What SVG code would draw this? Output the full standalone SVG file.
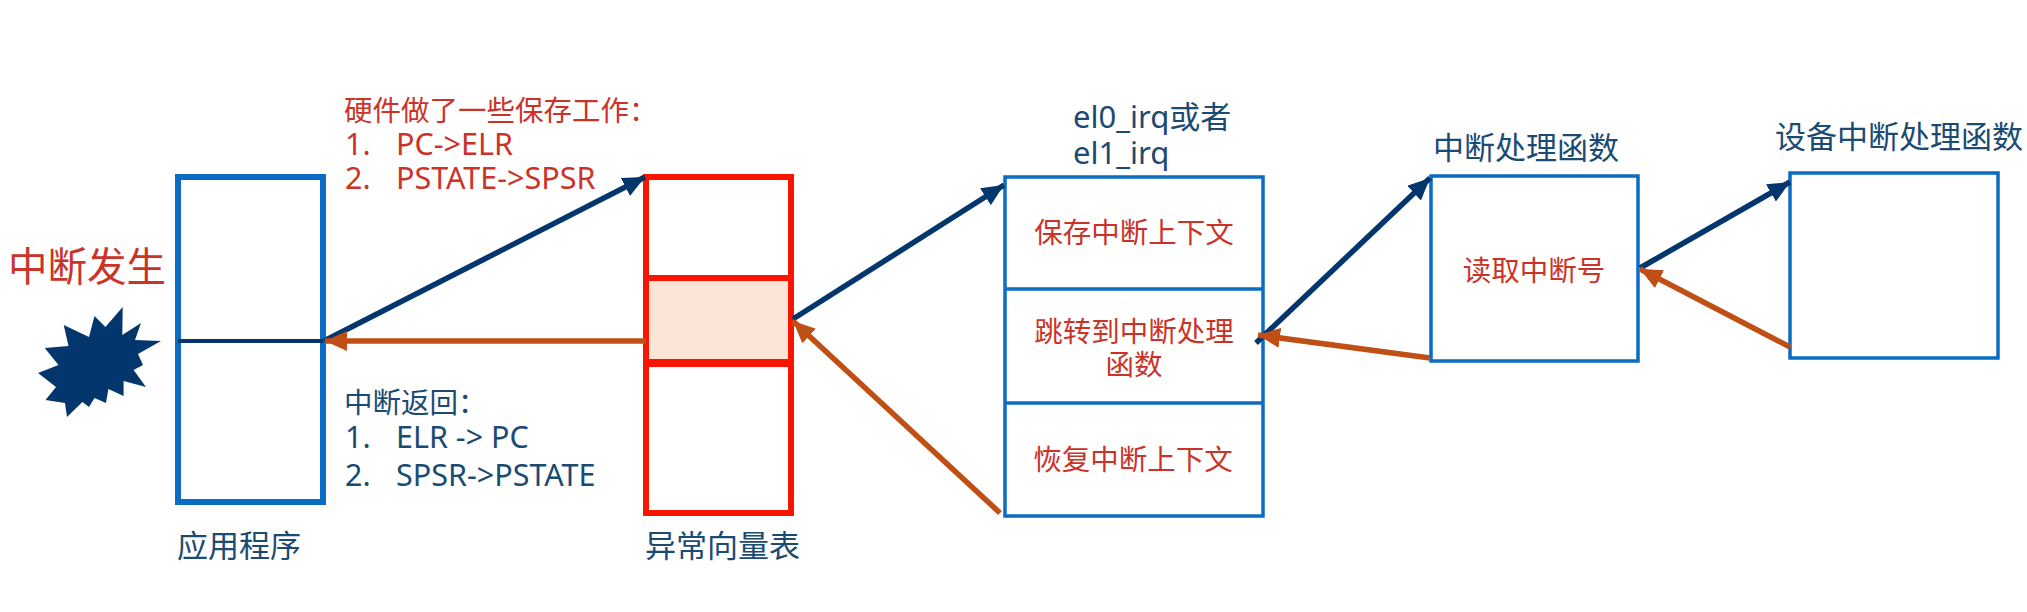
<svg xmlns="http://www.w3.org/2000/svg" width="2027" height="612" viewBox="0 0 2027 612">
<style>
text{font-family:"Noto Sans","Noto Sans CJK SC",sans-serif}
.r{fill:#cc3328}.n{fill:#1b4a73}
.s{font-size:28.5px}.l{font-size:30.5px}.m{font-size:31px}
.c{text-anchor:middle}
.b{fill:#fff;stroke:#0a6cc4;stroke-width:3.5}
.rb{fill:#fff;stroke:#fb1400;stroke-width:6}
.nv{stroke:#03366c;stroke-width:5.5;fill:none}
.or{stroke:#c04f15;stroke-width:5.5;fill:none}
</style>
<defs>
<marker id="an" markerUnits="userSpaceOnUse" markerWidth="24" markerHeight="22" refX="22" refY="10" orient="auto"><path d="M0 0L22 10L0 20z" fill="#03366c"/></marker>
<marker id="ao" markerUnits="userSpaceOnUse" markerWidth="24" markerHeight="22" refX="22" refY="10" orient="auto"><path d="M0 0L22 10L0 20z" fill="#c04f15"/></marker>
</defs>
<rect width="2027" height="612" fill="#fff"/>
<g id="interrupt">
<text class="r" x="8" y="281" font-size="39.5">中断发生</text>
<polygon fill="#03366c" points="122.7,307 122.3,335 141,323 135,340 161,341 138,354 143,365 133.6,370 146,387 123.6,381 123.6,396 108.4,389 106,403 94.5,398 89,407 82.4,402 67,417 65,403 45.5,400 56,387 38,373 58.5,365 44.7,348 68.5,346 63.7,325 89,337 94.5,316 105.4,327"/>
</g>
<g id="app">
<rect x="178" y="177" width="145" height="325" fill="#fff" stroke="#0a6cc4" stroke-width="6"/>
<line x1="178" y1="341" x2="323" y2="341" stroke="#03366c" stroke-width="4"/>
<text class="n m" x="177" y="557">应用程序</text>
</g>
<g id="hw-note">
<text class="r s" x="344" y="121">硬件做了一些保存工作：</text>
<text class="r l" x="345" y="155">1.</text><text class="r l" x="396" y="155">PC-&gt;ELR</text>
<text class="r l" x="345" y="189">2.</text><text class="r l" x="396" y="189">PSTATE-&gt;SPSR</text>
</g>
<g id="return-note">
<text class="n s" x="344" y="413">中断返回：</text>
<text class="n l" x="345" y="448">1.</text><text class="n l" x="396" y="448">ELR -&gt; PC</text>
<text class="n l" x="345" y="486">2.</text><text class="n l" x="396" y="486">SPSR-&gt;PSTATE</text>
</g>
<g id="vector-table">
<rect class="rb" x="646" y="177" width="145" height="336"/>
<rect x="646" y="278" width="145" height="85" fill="#fce4d6" stroke="#fb1400" stroke-width="6"/>
<line x1="643" x2="794" y1="363" y2="363" stroke="#fb1400" stroke-width="8"/>
<text class="n m" x="645" y="557">异常向量表</text>
</g>
<g id="el-irq">
<rect class="b" x="1005" y="177" width="258" height="339"/>
<line class="b" x1="1005" x2="1263" y1="289" y2="289"/>
<line class="b" x1="1005" x2="1263" y1="403" y2="403"/>
<text class="n" x="1073" y="128" font-size="31">el0_irq或者</text>
<text class="n" x="1073" y="164" font-size="31">el1_irq</text>
<text class="r s c" x="1134" y="243">保存中断上下文</text>
<text class="r s c" x="1134" y="342">跳转到中断处理</text>
<text class="r s c" x="1134" y="375">函数</text>
<text class="r s c" x="1133" y="470">恢复中断上下文</text>
</g>
<g id="irq-handler">
<rect class="b" x="1431" y="176" width="207" height="185"/>
<text class="n m" x="1433" y="159">中断处理函数</text>
<text class="r s c" x="1534" y="281">读取中断号</text>
</g>
<g id="device-handler">
<rect class="b" x="1790" y="173" width="208" height="185"/>
<text class="n m" x="1775" y="148">设备中断处理函数</text>
</g>
<g id="connectors">
<line class="nv" x1="324" y1="341" x2="645" y2="177" marker-end="url(#an)"/>
<line class="or" x1="646" y1="341" x2="325" y2="341" marker-end="url(#ao)"/>
<line class="nv" x1="793" y1="319" x2="1004" y2="185" marker-end="url(#an)"/>
<line class="or" x1="1000" y1="513" x2="793" y2="321" marker-end="url(#ao)"/>
<line class="nv" x1="1256" y1="343" x2="1430" y2="178" marker-end="url(#an)"/>
<line class="or" x1="1430" y1="358" x2="1258" y2="335" marker-end="url(#ao)"/>
<line class="nv" x1="1640" y1="268" x2="1790" y2="182" marker-end="url(#an)"/>
<line class="or" x1="1790" y1="347" x2="1640" y2="269" marker-end="url(#ao)"/>
</g>
</svg>
